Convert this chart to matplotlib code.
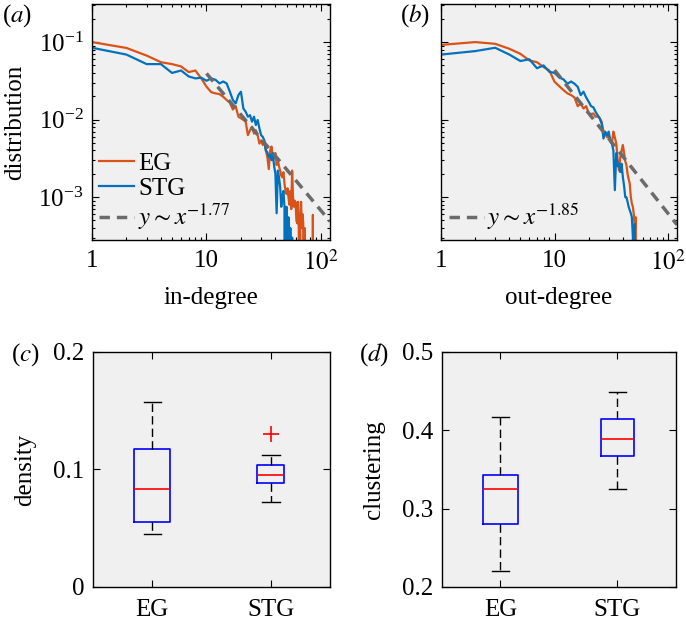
import numpy as np
import matplotlib
matplotlib.use("Agg")
import matplotlib.pyplot as plt

plt.rcParams['font.family'] = ['Liberation Serif', 'DejaVu Serif']
plt.rcParams['mathtext.fontset'] = 'stix'
plt.rcParams['font.size'] = 18

# degree distributions, zeros fall below the axis
in_k = list(range(1, 91))
eg_in = [0.100, 0.084, 0.067, 0.055, 0.052, 0.0485, 0.041, 0.043, 0.034, 0.0266,
         0.0226, 0.0218, 0.0213, 0.0197, 0.0179, 0.0165, 0.0135, 0.0149, 0.0109, 0.0104,
         0.0099, 0.0094, 0.0063, 0.0073, 0.0081, 0.0066, 0.0073, 0.0063, 0.0049, 0.0054,
         0.0047, 0.0052, 0.0040, 0.0033, 0.0023, 0.0040, 0.0045, 0.0030, 0.0033, 0.0037,
         0.0026, 0.0030, 0.0025, 0.0022, 0.0019, 0.0018, 0.0021, 0.0015, 0.0012, 0.0011,
         0.0013, 0.0010, 0.0008, 0.0012, 0.0007, 0.0022, 0.0010, 0.00075, 0.0009, 0.00087,
         0.0005, 0.00046, 0.00087, 0.0004, 0, 0.0005, 0.00087, 0.0004, 0.0006, 0.00046,
         0, 0.0004, 0, 0, 0, 0, 0, 0, 0, 0,
         0, 0, 0, 0, 0.00059, 0, 0, 0, 0, 0]
stg_in = [0.0845, 0.069, 0.052, 0.052, 0.040, 0.043, 0.036, 0.034, 0.0347, 0.0317,
          0.034, 0.0326, 0.0293, 0.031, 0.0293, 0.0229, 0.0179, 0.0162, 0.0207, 0.0229,
          0.0139, 0.0126, 0.0109, 0.0114, 0.0094, 0.0109, 0.0085, 0.0099, 0.0077, 0.0063,
          0.0060, 0.0054, 0.0040, 0.0038, 0.0033, 0.0035, 0.0030, 0.0037, 0.0025, 0.0020,
          0.00062, 0.0022, 0.0018, 0.00136, 0.00075, 0.0010, 0.0012, 0.00075, 0, 0.00075,
          0, 0.00055, 0, 0.0004, 0, 0.0003, 0, 0, 0, 0,
          0, 0, 0, 0, 0, 0, 0, 0, 0, 0,
          0, 0, 0, 0, 0, 0, 0, 0, 0, 0,
          0, 0, 0, 0, 0, 0, 0, 0, 0, 0]

out_k = list(range(1, 61))
eg_out = [0.092, 0.100, 0.095, 0.082, 0.0706, 0.058, 0.055, 0.0476, 0.043, 0.0308,
          0.027, 0.024, 0.0218, 0.0207, 0.0193, 0.0149, 0.0162, 0.0139, 0.0149, 0.012,
          0.0118, 0.012, 0.0109, 0.011, 0.0104, 0.0094, 0.007, 0.0066, 0.0059, 0.0061,
          0.0052, 0.0049, 0.007, 0.0059, 0.0049, 0.0030, 0.0022, 0.0033, 0.0040, 0.0047,
          0.0037, 0.0029, 0.0026, 0.0020, 0.0017, 0.0015, 0.0010, 0.00083, 0.00075, 0.00059,
          0.00038, 0.00055, 0, 0, 0, 0, 0, 0, 0, 0]
stg_out = [0.069, 0.0765, 0.0845, 0.069, 0.057, 0.060, 0.046, 0.050, 0.0414, 0.040,
           0.035, 0.033, 0.029, 0.031, 0.029, 0.0265, 0.0207, 0.0229, 0.0193, 0.017,
           0.0149, 0.0144, 0.0126, 0.0114, 0.0104, 0.0089, 0.0057, 0.007, 0.0063, 0.007,
           0.0054, 0.0049, 0.004, 0.00123, 0.0037, 0.0025, 0.0027, 0.0021, 0.0027, 0.0018,
           0.0014, 0.0010, 0.0010, 0.00087, 0.00075, 0.00068, 0.00062, 0.00055, 0.00031, 0,
           0.00045, 0, 0, 0, 0, 0, 0, 0, 0, 0]

# power-law guide lines (end points)
fit_in_x = [10, 120]
fit_in_y = [0.0394, 0.000486]
fit_out_x = [10, 120]
fit_out_y = [0.0435, 0.00044]

# box plot statistics: whisker low, q1, median, q3, whisker high
density_eg = [0.0454, 0.0553, 0.0831, 0.1172, 0.1574]
density_stg = [0.0723, 0.0885, 0.0953, 0.1038, 0.1121]
density_stg_out = [0.1305]
clust_eg = [0.221, 0.280, 0.3247, 0.343, 0.4166]
clust_stg = [0.3247, 0.367, 0.3885, 0.4145, 0.449]
groups = ['EG', 'STG']

c_eg = '#D95319'
c_stg = '#0072BD'
c_fit = '#6b6b6b'
bg = '#f0f0f0'

fig = plt.figure(figsize=(6.86, 6.24), dpi=100)
ax_a = fig.add_axes([0.1341, 0.6154, 0.3470, 0.3782])
ax_b = fig.add_axes([0.6429, 0.6154, 0.3440, 0.3782])
ax_c = fig.add_axes([0.1356, 0.0593, 0.3455, 0.3766])
ax_d = fig.add_axes([0.6443, 0.0593, 0.3411, 0.3766])


def style(ax):
    ax.set_facecolor(bg)
    ax.tick_params(which='both', direction='in', top=True, right=True, width=0.8)
    ax.tick_params(which='major', length=5)
    ax.tick_params(which='minor', length=2.5)
    for s in ax.spines.values():
        s.set_linewidth(1.0)


for ax, k, e, s, fx, fy, lab, xl in [
        (ax_a, in_k, eg_in, stg_in, fit_in_x, fit_in_y, r'$y\sim x^{-1.77}$', 'in-degree'),
        (ax_b, out_k, eg_out, stg_out, fit_out_x, fit_out_y, r'$y\sim x^{-1.85}$', 'out-degree')]:
    style(ax)
    l1, = ax.plot(k, e, color=c_eg, lw=1.6, label='EG')
    l2, = ax.plot(k, s, color=c_stg, lw=1.6, label='STG')
    l3, = ax.plot(fx, fy, color=c_fit, lw=2.5, ls=(0, (3, 2)), label=lab)
    ax.set_xscale('log')
    ax.set_yscale('log')
    ax.set_xlim(1, 120)
    ax.set_ylim(2.8e-4, 0.31)
    ax.set_xticks([1, 10, 100], ['1', '10', r'$10^2$'])
    ax.tick_params(axis='x', pad=7)
    ax.tick_params(axis='y', pad=6)
    ax.set_xlabel(xl)
    ax.xaxis.set_label_coords(0.5, -0.2)
    if ax is ax_a:
        ax.set_yticks([1e-3, 1e-2, 1e-1])
        ax.set_ylabel('distribution')
        ax.yaxis.set_label_coords(-0.275, 0.5)
        handles = [l1, l2, l3]
    else:
        ax.set_yticks([1e-3, 1e-2, 1e-1], ['', '', ''])
        handles = [l3]
    ax.legend(handles=handles, loc='lower left', frameon=False, fontsize=18,
              handlelength=1.4, handletextpad=0.15, labelspacing=0.1,
              borderaxespad=0.1, borderpad=0.2)


def box_stats(v, label, fliers=()):
    return dict(whislo=v[0], q1=v[1], med=v[2], q3=v[3], whishi=v[4],
                fliers=list(fliers), label=label)


box_kw = dict(boxprops=dict(color='#0000ff', lw=1.2),
              medianprops=dict(color='#ff0000', lw=1.2),
              whiskerprops=dict(color='k', lw=1.0, ls=(0, (6, 3))),
              capprops=dict(color='k', lw=1.0),
              flierprops=dict(marker='+', markeredgecolor='#ff0000', markersize=12,
                              markeredgewidth=1.2))

style(ax_c)
ax_c.bxp([box_stats(density_eg, groups[0]),
          box_stats(density_stg, groups[1], density_stg_out)],
         positions=[1, 2], widths=[0.30, 0.23], capwidths=[0.14, 0.15], **box_kw)
ax_c.set_xlim(0.5, 2.5)
ax_c.set_ylim(0, 0.2)
ax_c.set_yticks([0, 0.1, 0.2], ['0', '0.1', '0.2'])
ax_c.set_ylabel('density')
ax_c.yaxis.set_label_coords(-0.24, 0.5)

style(ax_d)
ax_d.bxp([box_stats(clust_eg, groups[0]), box_stats(clust_stg, groups[1])],
         positions=[1, 2], widths=[0.30, 0.29], capwidths=[0.14, 0.14], **box_kw)
ax_d.set_xlim(0.5, 2.5)
ax_d.set_ylim(0.2, 0.5)
ax_d.set_yticks([0.2, 0.3, 0.4, 0.5], ['0.2', '0.3', '0.4', '0.5'])
ax_d.set_ylabel('clustering')
ax_d.yaxis.set_label_coords(-0.245, 0.5)

for ax in (ax_c, ax_d):
    ax.tick_params(axis='x', pad=9)
    ax.tick_params(axis='y', pad=6)

fig.text(0.003, 0.975, r'($\mathit{a}$)', fontsize=18, va='center')
fig.text(0.583, 0.975, r'($\mathit{b}$)', fontsize=18, va='center')
fig.text(0.016, 0.432, r'($\mathit{c}$)', fontsize=18, va='center')
fig.text(0.523, 0.432, r'($\mathit{d}$)', fontsize=18, va='center')

fig.savefig('out.png', dpi=100)
